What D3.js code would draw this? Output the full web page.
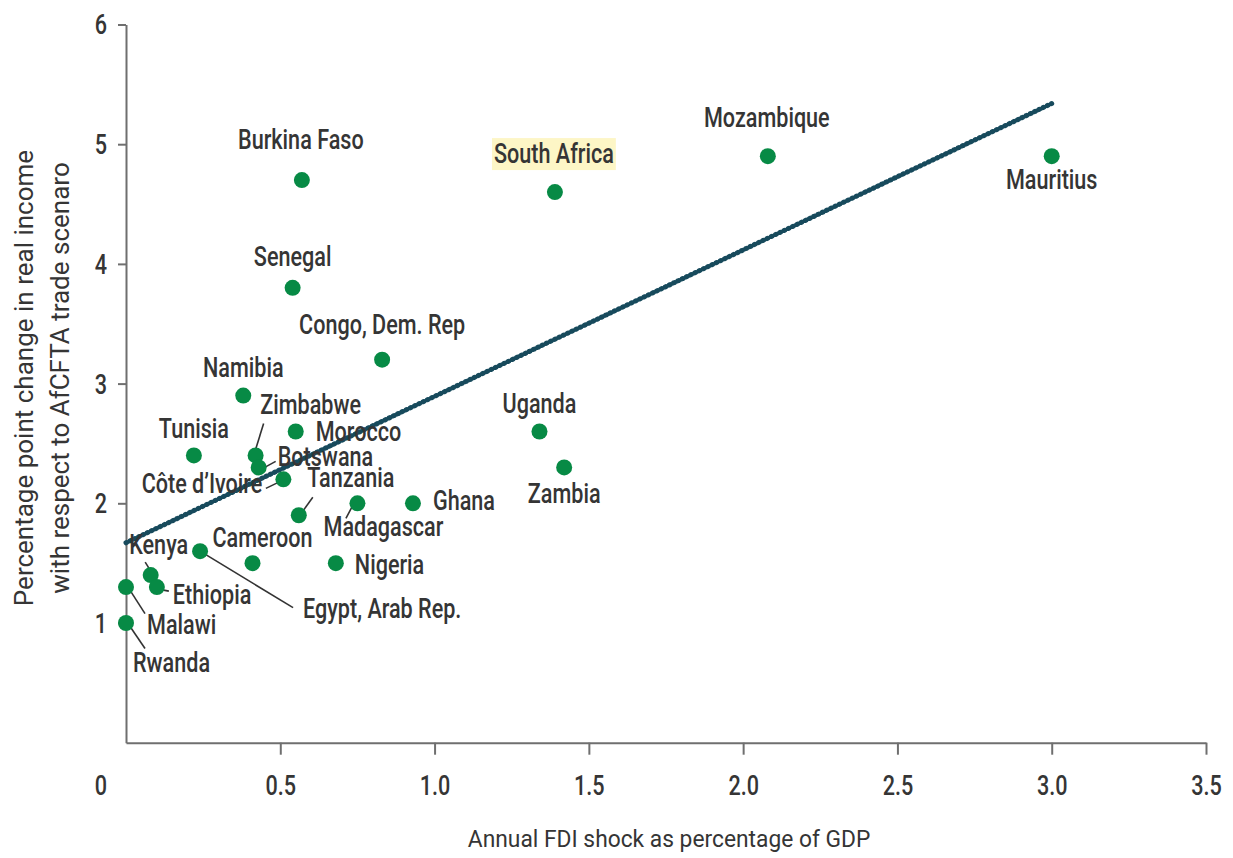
<!DOCTYPE html>
<html>
<head>
<meta charset="utf-8">
<script src="https://cdn.jsdelivr.net/npm/d3@7.9.0/dist/d3.min.js"></script>
<style>
  body { margin: 0; background: #fff; }
  svg { display: block; font-family: Roboto, "Open Sans", sans-serif; font-weight: 500; }
</style>
</head>
<body>
<svg id="chart" width="1233" height="858"></svg>
<script>
// Data
const countries = ["Burkina Faso", "South Africa", "Mozambique", "Mauritius", "Senegal",
  "Congo, Dem. Rep", "Namibia", "Zimbabwe", "Tunisia", "Morocco", "Botswana",
  "Côte d’Ivoire", "Tanzania", "Madagascar", "Ghana", "Uganda", "Zambia",
  "Cameroon", "Nigeria", "Kenya", "Ethiopia", "Egypt, Arab Rep.", "Malawi", "Rwanda"];
const fdiShock = [0.57, 1.39, 2.08, 3.0, 0.54, 0.83, 0.38, 0.42, 0.22, 0.55, 0.43,
  0.51, 0.56, 0.75, 0.93, 1.34, 1.42, 0.41, 0.68, 0.08, 0.10, 0.24, 0.0, 0.0];
const incomeChange = [4.7, 4.6, 4.9, 4.9, 3.8, 3.2, 2.9, 2.4, 2.4, 2.6, 2.3,
  2.2, 1.9, 2.0, 2.0, 2.6, 2.3, 1.5, 1.5, 1.4, 1.3, 1.6, 1.3, 1.0];
const highlighted = ["South Africa"];

const xTicks = [0.5, 1.0, 1.5, 2.0, 2.5, 3.0, 3.5];
const yTicks = [1, 2, 3, 4, 5, 6];

// fitted line end points
const trendX = [0, 3.0];
const trendY = [1.67, 5.34];

const xTitle = "Annual FDI shock as percentage of GDP";
const yTitle = ["Percentage point change in real income", "with respect to AfCFTA trade scenaro"];

// label placement (pixel offsets from the dot), and leader lines
const labelPlace = {
  "Burkina Faso": { a: "middle", dx: -1, dy: -31 },
  "South Africa": { a: "middle", dx: -1, dy: -29.5 },
  "Mozambique": { a: "middle", dx: -1, dy: -29.5 },
  "Mauritius": { a: "middle", dx: 0, dy: 33 },
  "Senegal": { a: "middle", dx: 0, dy: -22 },
  "Congo, Dem. Rep": { a: "middle", dx: 0, dy: -26 },
  "Namibia": { a: "middle", dx: 0, dy: -19 },
  "Zimbabwe": { a: "middle", dx: 55, dy: -41, lead: [8, -32, 0, -6] },
  "Tunisia": { a: "middle", dx: 0, dy: -17 },
  "Morocco": { a: "start", dx: 20, dy: 9.5 },
  "Botswana": { a: "start", dx: 19, dy: -1, lead: [17, -6, 6, 0] },
  "Côte d’Ivoire": { a: "end", dx: -21, dy: 14, lead: [-17.5, 9, -4, 2.5] },
  "Tanzania": { a: "middle", dx: 52, dy: -28, lead: [14, -18, 2.5, -2] },
  "Madagascar": { a: "middle", dx: 26, dy: 33, lead: [-11.5, 15, -3.5, 0] },
  "Ghana": { a: "start", dx: 20, dy: 7 },
  "Uganda": { a: "middle", dx: 0, dy: -18.5 },
  "Zambia": { a: "middle", dx: 0, dy: 36 },
  "Cameroon": { a: "middle", dx: 10, dy: -16 },
  "Nigeria": { a: "start", dx: 19, dy: 10.5 },
  "Kenya": { a: "middle", dx: 8, dy: -21.5, lead: [-5.5, -13, -0.5, -5] },
  "Ethiopia": { a: "start", dx: 16, dy: 16.5, lead: [12, 4, 4, 2.5] },
  "Egypt, Arab Rep.": { a: "start", dx: 103, dy: 66.5, lead: [0, 0, 93, 56.5] },
  "Malawi": { a: "start", dx: 21, dy: 46.5, lead: [2, 0, 19, 26.5] },
  "Rwanda": { a: "start", dx: 7, dy: 49, lead: [2, 0.5, 19, 25.5] }
};

const points = countries.map((c, i) => ({ name: c, x: fdiShock[i], y: incomeChange[i] }));

const svg = d3.select("#chart");
const textColor = "#353535";
const axisColor = "#6f6f6f";
const squeeze = 0.8; // the original typeface is condensed

const x = d3.scaleLinear().domain([0, 3.5]).range([126, 1206]);
const y = d3.scaleLinear().domain([0, 6]).range([742.7, 24.5]);

// x axis
const gx = svg.append("g")
  .attr("transform", `translate(0,${y(0)})`)
  .call(d3.axisBottom(x).tickValues(xTicks).tickSize(12).tickSizeOuter(0)
    .tickFormat(d3.format(".1f")));
gx.select(".domain").attr("stroke", axisColor).attr("stroke-width", 2);
gx.selectAll(".tick line").attr("stroke", axisColor).attr("stroke-width", 2);
gx.selectAll(".tick text")
  .attr("y", 0).attr("dy", 0)
  .attr("transform", `translate(0,52) scale(${squeeze},1)`)
  .attr("fill", textColor).attr("font-size", 27).attr("font-family", "Roboto");

// the lone "0" sits under the corner, left of the axis
svg.append("text")
  .attr("transform", `translate(${x(0) - 25},${y(0) + 52}) scale(${squeeze},1)`)
  .attr("text-anchor", "middle")
  .attr("fill", textColor).attr("font-size", 27)
  .text("0");

// y axis
const gy = svg.append("g")
  .attr("transform", `translate(${x(0)},0)`)
  .call(d3.axisLeft(y).tickValues(yTicks).tickSize(8).tickSizeOuter(0).tickFormat(d3.format("d")));
gy.select(".domain").attr("stroke", axisColor).attr("stroke-width", 2);
gy.selectAll(".tick line").attr("stroke", axisColor).attr("stroke-width", 2);
gy.selectAll(".tick text")
  .attr("x", 0).attr("dy", "0.35em")
  .attr("transform", `translate(-19,0) scale(${squeeze},1)`)
  .attr("fill", textColor).attr("font-size", 27).attr("font-family", "Roboto");

// axis titles
svg.append("text")
  .attr("transform", `translate(${(x(1.1) + x(2.42)) / 2},847) scale(0.95,1)`)
  .attr("text-anchor", "middle")
  .attr("fill", textColor).attr("font-size", 24).attr("font-weight", 400)
  .text(xTitle);

svg.selectAll(".ytitle")
  .data(yTitle)
  .join("text")
  .attr("class", "ytitle")
  .attr("transform", (d, i) => `translate(${33 + i * 36},378) rotate(-90)`)
  .attr("text-anchor", "middle")
  .attr("fill", textColor).attr("font-size", 26).attr("font-weight", 400)
  .text(d => d);

// fitted line: dark teal with a beaded texture
const trend = d3.line().x(d => x(d[0])).y(d => y(d[1]));
const trendData = d3.zip(trendX, trendY);
svg.append("path")
  .attr("d", trend(trendData))
  .attr("stroke", "#3d7083").attr("stroke-width", 3.6).attr("fill", "none");
svg.append("path")
  .attr("d", trend(trendData))
  .attr("stroke", "#174a5c").attr("stroke-width", 5)
  .attr("stroke-linecap", "round").attr("stroke-dasharray", "0.5 4.2")
  .attr("fill", "none");

// leader lines
svg.append("g").selectAll("line")
  .data(points.filter(d => labelPlace[d.name].lead))
  .join("line")
  .attr("x1", d => x(d.x) + labelPlace[d.name].lead[0])
  .attr("y1", d => y(d.y) + labelPlace[d.name].lead[1])
  .attr("x2", d => x(d.x) + labelPlace[d.name].lead[2])
  .attr("y2", d => y(d.y) + labelPlace[d.name].lead[3])
  .attr("stroke", "#333").attr("stroke-width", 1.6);

// dots
svg.append("g").selectAll("circle")
  .data(points)
  .join("circle")
  .attr("cx", d => x(d.x))
  .attr("cy", d => y(d.y))
  .attr("r", 8)
  .attr("fill", "#078a45");

// labels
const labels = svg.append("g").selectAll("g")
  .data(points)
  .join("g")
  .attr("transform", d => `translate(${x(d.x) + labelPlace[d.name].dx},${y(d.y) + labelPlace[d.name].dy})`);

labels.append("text")
  .attr("transform", `scale(${squeeze},1)`)
  .attr("text-anchor", d => labelPlace[d.name].a)
  .attr("fill", textColor)
  .attr("font-size", 27)
  .text(d => d.name);

labels.filter(d => highlighted.includes(d.name)).each(function () {
  const g = d3.select(this);
  const bb = g.select("text").node().getBBox();
  g.insert("rect", "text")
    .attr("x", bb.x * squeeze - 2)
    .attr("y", -24.5)
    .attr("width", bb.width * squeeze + 4)
    .attr("height", 32)
    .attr("fill", "#fdf6c6");
});
</script>
</body>
</html>
